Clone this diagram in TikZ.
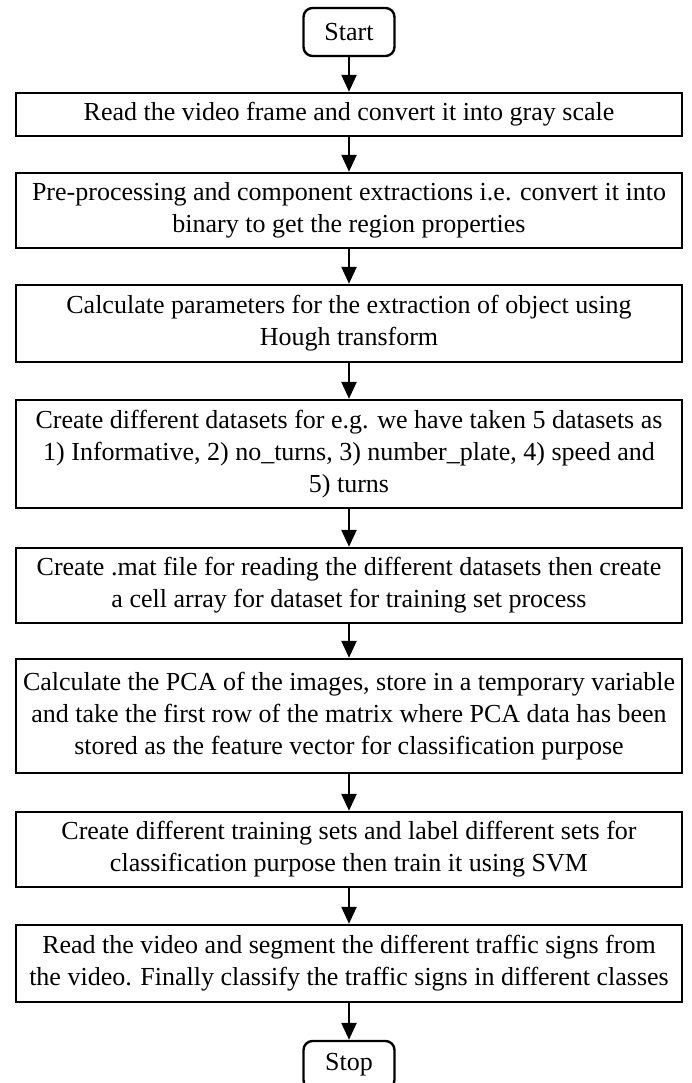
\documentclass[tikz,border=0pt]{standalone}
\usepackage{fontspec}
\setmainfont{Liberation Serif}
\usepackage{tikz}
\usetikzlibrary{arrows, arrows.meta}
\usetikzlibrary{positioning}
\usetikzlibrary{calc}

\begin{document}
\begin{tikzpicture}[x=1pt, y=1pt,
	every node/.style={font=\fontsize{26}{32}\selectfont},
	process/.style={rectangle, draw=black, line width=2.4pt, minimum width=666pt, align=center, inner sep=3pt},
	terminal/.style={rectangle, rounded corners=9pt, draw=black, line width=2.4pt, minimum width=91pt, minimum height=48pt},
	flow/.style={-{Triangle[length=17pt, width=15pt]}, line width=2.4pt}]
	\newcommand\midX{349}
	\useasboundingbox (0,0) rectangle (691,-1083);
	\node[terminal] (node0) at (\midX,-32){Start};
	\node[process, minimum height=43pt] (node1) at (\midX,-114.5){Read the video frame and convert it into gray scale};
	\node[process, minimum height=75pt] (node2) at (\midX,-210.5){Pre-processing and component extractions i.e. convert it into\\binary to get the region properties};
	\node[process, minimum height=77pt] (node3) at (\midX,-323.5){Calculate parameters for the extraction of object using\\Hough transform};
	\node[process, minimum height=108pt] (node4) at (\midX,-454){Create different datasets for e.g. we have taken 5 datasets as\\1) Informative, 2) no\_turns, 3) number\_plate, 4) speed and\\5) turns};
	\node[process, minimum height=75pt] (node5) at (\midX,-585.5){Create .mat file for reading the different datasets then create\\a cell array for dataset for training set process};
	\node[process, minimum height=114pt] (node6) at (\midX,-716){Calculate the PCA of the images, store in a temporary variable\\and take the first row of the matrix where PCA data has been\\stored as the feature vector for classification purpose};
	\node[process, minimum height=75pt] (node7) at (\midX,-849.5){Create different training sets and label different sets for\\classification purpose then train it using SVM};
	\node[process, minimum height=77pt] (node8) at (\midX,-963.5){Read the video and segment the different traffic signs from\\the video. Finally classify the traffic signs in different classes};
	\node[terminal] (node9) at (\midX,-1065){Stop};
	\foreach \a/\b in {0/1,1/2,2/3,3/4,4/5,5/6,6/7,7/8,8/9}
		\draw[flow] (node\a) -- (node\b);
\end{tikzpicture}
\end{document}
